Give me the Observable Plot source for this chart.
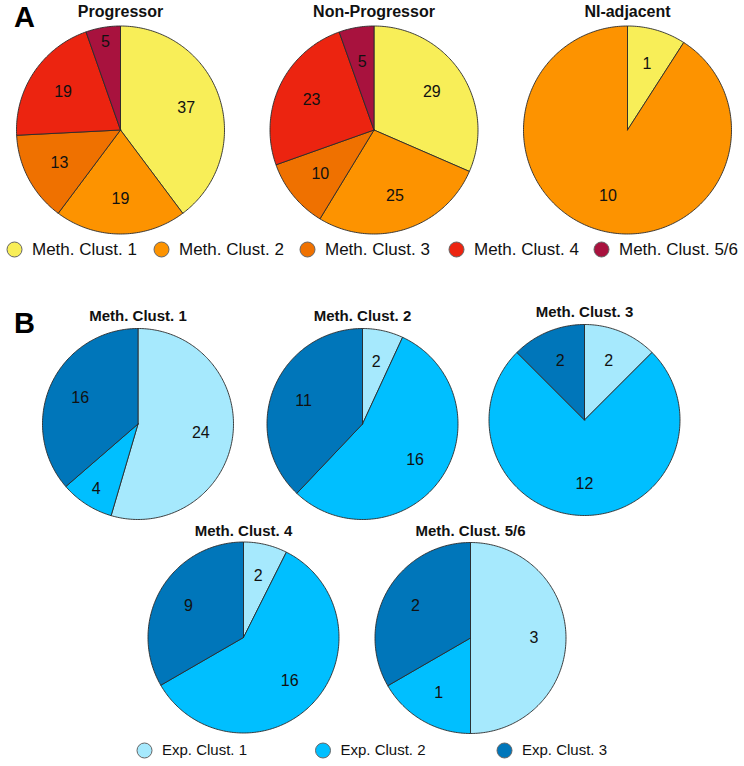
<!DOCTYPE html>
<html>
<head>
<meta charset="utf-8">
<script src="https://cdn.jsdelivr.net/npm/d3@7"></script>
<script src="https://cdn.jsdelivr.net/npm/@observablehq/plot@0.6"></script>
<style>
  html, body { margin: 0; padding: 0; background: #fff; }
  #chart svg { display: block; }
</style>
</head>
<body>
<div id="chart"></div>
<script>
// ---------------- DATA ----------------
const methClusters = ["Meth. Clust. 1", "Meth. Clust. 2", "Meth. Clust. 3", "Meth. Clust. 4", "Meth. Clust. 5/6"];
const groupsA = ["Progressor", "Non-Progressor", "NI-adjacent"];
const progressor = [37, 19, 13, 19, 5];
const nonProgressor = [29, 25, 10, 23, 5];
const niAdjacent = [1, 10, 0, 0, 0];

const expClusters = ["Exp. Clust. 1", "Exp. Clust. 2", "Exp. Clust. 3"];
const groupsB = ["Meth. Clust. 1", "Meth. Clust. 2", "Meth. Clust. 3", "Meth. Clust. 4", "Meth. Clust. 5/6"];
const methClust1 = [24, 4, 16];
const methClust2 = [2, 16, 11];
const methClust3 = [2, 12, 2];
const methClust4 = [2, 16, 9];
const methClust56 = [3, 1, 2];

// ---------------- STYLE / LAYOUT ----------------
const methColors = ["#F8EE58", "#FD9300", "#EF7100", "#EC2410", "#A8123E"];
const expColors = ["#A6E9FD", "#00BFFF", "#0076BA"];
const FONT = "Liberation Sans, Arial, Helvetica, sans-serif";
const W = 744, H = 766;

const pieLayout = [
  {panel: "A", title: groupsA[0], values: progressor, cx: 120, cy: 129.5, r: 104, ty: 11, tsize: 16},
  {panel: "A", title: groupsA[1], values: nonProgressor, cx: 373.5, cy: 129.5, r: 104, ty: 11, tsize: 16},
  {panel: "A", title: groupsA[2], values: niAdjacent, cx: 627, cy: 129.5, r: 104, ty: 11, tsize: 16},
  {panel: "B", title: groupsB[0], values: methClust1, cx: 137.5, cy: 423.5, r: 95.5, ty: 316, tsize: 15},
  {panel: "B", title: groupsB[1], values: methClust2, cx: 362, cy: 423.5, r: 95.5, ty: 316, tsize: 15},
  {panel: "B", title: groupsB[2], values: methClust3, cx: 584, cy: 419.5, r: 95.5, ty: 311.5, tsize: 15},
  {panel: "B", title: groupsB[3], values: methClust4, cx: 243, cy: 637, r: 95.5, ty: 531, tsize: 15},
  {panel: "B", title: groupsB[4], values: methClust56, cx: 470, cy: 637.5, r: 95.5, ty: 531, tsize: 15}
];
// label radius (fraction of r); a couple of small slices have labels pushed outward
const labelFrac = 0.665;
const labelFracOverride = {"Progressor|4": 0.86, "Meth. Clust. 1|1": 0.81};

const legendA = {y: 249, x: [14, 161, 307, 456, 601], dx: 17.5, size: 17, r: 7.5};
const legendB = {y: 750, x: [144, 322.5, 504], dx: 17.5, size: 15, r: 7.5};

// ---------------- BUILD GEOMETRY ----------------
const wedgePts = [];
const labels = [];
const titles = [];
pieLayout.forEach((p, pi) => {
  const colors = p.panel === "A" ? methColors : expColors;
  const total = d3.sum(p.values);
  let acc = 0;
  p.values.forEach((v, si) => {
    if (v <= 0) return;
    const a0 = acc / total * 2 * Math.PI;
    const a1 = (acc + v) / total * 2 * Math.PI;
    acc += v;
    const id = pi + "-" + si;
    const col = colors[si];
    wedgePts.push({id, color: col, x: p.cx, y: p.cy});
    const n = Math.max(2, Math.ceil((a1 - a0) / (Math.PI / 180)));
    for (let k = 0; k <= n; k++) {
      const a = a0 + (a1 - a0) * k / n;
      wedgePts.push({id, color: col, x: p.cx + p.r * Math.sin(a), y: p.cy - p.r * Math.cos(a)});
    }
    wedgePts.push({id, color: col, x: p.cx, y: p.cy});
    const am = (a0 + a1) / 2;
    const f = labelFracOverride[p.title + "|" + si] ?? labelFrac;
    labels.push({text: String(v), x: p.cx + f * p.r * Math.sin(am), y: p.cy - f * p.r * Math.cos(am)});
  });
  titles.push({text: p.title, x: p.cx, y: p.ty, size: p.tsize});
});

const legendItems = [
  ...methClusters.map((t, i) => ({text: t, color: methColors[i], x: legendA.x[i], y: legendA.y, dx: legendA.dx, size: legendA.size, r: legendA.r})),
  ...expClusters.map((t, i) => ({text: t, color: expColors[i], x: legendB.x[i], y: legendB.y, dx: legendB.dx, size: legendB.size, r: legendB.r}))
];
const panelLetters = [{text: "A", x: 24, y: 17}, {text: "B", x: 24, y: 323}];

// ---------------- PLOT ----------------
const chart = Plot.plot({
  width: W,
  height: H,
  margin: 0,
  style: {background: "#fff", fontFamily: FONT},
  x: {domain: [0, W], range: [0, W], axis: null},
  y: {domain: [0, H], range: [0, H], axis: null},
  color: {type: "identity"},
  marks: [
    Plot.line(wedgePts, {x: "x", y: "y", z: "id", fill: "color", stroke: "#2a2a2a", strokeWidth: 0.9, strokeLinejoin: "round", curve: "linear"}),
    Plot.text(labels, {x: "x", y: "y", text: "text", fontSize: 16, fill: "#111", fontFamily: FONT}),
    Plot.text(titles.filter(d => d.size === 16), {x: "x", y: "y", text: "text", fontSize: 16, fontWeight: "bold", fill: "#111", fontFamily: FONT}),
    Plot.text(titles.filter(d => d.size === 15), {x: "x", y: "y", text: "text", fontSize: 15, fontWeight: "bold", fill: "#111", fontFamily: FONT}),
    Plot.text(panelLetters, {x: "x", y: "y", text: "text", fontSize: 29, fontWeight: "bold", fill: "#000", fontFamily: FONT}),
    Plot.dot(legendItems, {x: "x", y: "y", r: 7.5, fill: "color", stroke: "#666", strokeWidth: 1}),
    Plot.text(legendItems.filter(d => d.size === 17), {x: d => d.x + d.dx, y: "y", text: "text", textAnchor: "start", fontSize: 17, fill: "#111", fontFamily: FONT}),
    Plot.text(legendItems.filter(d => d.size === 15), {x: d => d.x + d.dx, y: "y", text: "text", textAnchor: "start", fontSize: 15, fill: "#111", fontFamily: FONT})
  ]
});
document.getElementById("chart").appendChild(chart);
</script>
</body>
</html>
